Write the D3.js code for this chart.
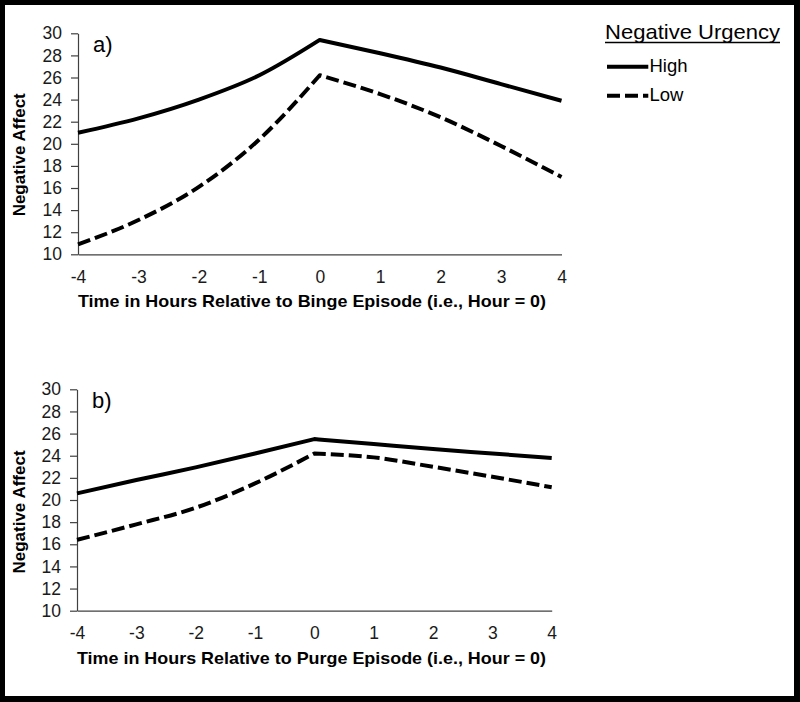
<!DOCTYPE html>
<html>
<head>
<meta charset="utf-8">
<script src="https://cdn.jsdelivr.net/npm/d3@7"></script>
<style>
  html, body { margin: 0; padding: 0; background: #fff; }
  svg { display: block; }
  text { font-family: Arial, "Liberation Sans", sans-serif; }
</style>
</head>
<body>
<svg id="chart" width="800" height="702"></svg>
<script>
// ---- data ----
const hours = [-4, -3, -2, -1, 0, 1, 2, 3, 4];
const yTicks = [10, 12, 14, 16, 18, 20, 22, 24, 26, 28, 30];
const bingeHigh = [21.0, 22.3, 24.0, 26.2, 29.4, 28.2, 26.9, 25.4, 23.9];
const bingeLow  = [10.9, 13.1, 16.1, 20.4, 26.2, 24.5, 22.4, 19.8, 17.0];
const purgeHigh = [20.6, 21.8, 22.95, 24.2, 25.5, 25.05, 24.6, 24.2, 23.8];
const purgeLow  = [16.4, 17.8, 19.3, 21.5, 24.2, 23.85, 23.0, 22.1, 21.15];
const seriesNames = ["High", "Low"];
const panelLabels = ["a)", "b)"];
const xTitles = [
  "Time in Hours Relative to Binge Episode (i.e., Hour = 0)",
  "Time in Hours Relative to Purge Episode (i.e., Hour = 0)"
];
const yTitle = "Negative Affect";
const legendTitle = "Negative Urgency";

const svg = d3.select("#chart");

// frame
svg.append("rect").attr("x", 0).attr("y", 0).attr("width", 800).attr("height", 702).attr("fill", "#000");
svg.append("rect").attr("x", 5).attr("y", 5).attr("width", 789).attr("height", 691).attr("fill", "#fff");

const panels = [
  { high: bingeHigh, low: bingeLow, x0: 78, x1: 561.5, yTop: 33.3, yBot: 254.3 },
  { high: purgeHigh, low: purgeLow, x0: 77, x1: 551.7, yTop: 389.3, yBot: 610.7 }
];

const dashes = [null, "13,5"];

panels.forEach((p, i) => {
  const x = d3.scaleLinear().domain([-4, 4]).range([p.x0, p.x1]);
  const y = d3.scaleLinear().domain([10, 30]).range([p.yBot, p.yTop]);
  const g = svg.append("g");

  // y axis
  const ya = g.append("g").attr("transform", `translate(${p.x0},0)`)
    .call(d3.axisLeft(y).tickValues(yTicks).tickSize(7).tickSizeOuter(0).tickPadding(9));
  ya.selectAll("path, line").attr("stroke", "#404040").attr("stroke-width", 1.2);
  ya.selectAll("text").attr("font-size", 17.5).attr("fill", "#1a1a1a")
    .style("font-family", "Arial, 'Liberation Sans', sans-serif");

  // x axis
  const xa = g.append("g").attr("transform", `translate(0,${p.yBot})`)
    .call(d3.axisBottom(x).tickValues(hours).tickSize(0).tickPadding(16).tickFormat(d3.format("d")));
  xa.selectAll("path").attr("stroke", "#404040").attr("stroke-width", 1.2);
  xa.selectAll("text").attr("font-size", 17.5).attr("fill", "#1a1a1a")
    .style("font-family", "Arial, 'Liberation Sans', sans-serif")
    .text(d => d < 0 ? "-" + Math.abs(d) : String(d));

  // lines: monotone on each side of the peak, joined at hour 0
  const lineGen = d3.line().x(d => x(d[0])).y(d => y(d[1])).curve(d3.curveMonotoneX);
  [p.high, p.low].forEach((vals, k) => {
    const pts = hours.map((h, j) => [h, vals[j]]);
    const left = pts.filter(d => d[0] <= 0);
    const right = pts.filter(d => d[0] >= 0);
    const dStr = lineGen(left) + lineGen(right).replace(/^M/, "L");
    const path = g.append("path").attr("d", dStr)
      .attr("fill", "none").attr("stroke", "#000").attr("stroke-width", 4)
      .attr("stroke-linejoin", "round");
    if (dashes[k]) path.attr("stroke-dasharray", dashes[k]);
  });

  // panel label
  g.append("text").attr("x", p.x0 + 15).attr("y", p.yTop + (i === 0 ? 18.5 : 19))
    .attr("font-size", 22).attr("fill", "#000").text(panelLabels[i]);

  // x title
  g.append("text").attr("x", p.x0).attr("y", p.yBot + 53)
    .attr("font-size", 17).attr("font-weight", "bold").attr("fill", "#000")
    .attr("textLength", (i === 0 ? 468 : 469)).attr("lengthAdjust", "spacingAndGlyphs")
    .text(xTitles[i]);

  // y title
  const cy = (p.yTop + p.yBot) / 2 + (i === 0 ? 11 : 12);
  g.append("text").attr("transform", `translate(25,${cy}) rotate(-90)`)
    .attr("text-anchor", "middle").attr("font-size", 17).attr("font-weight", "bold")
    .attr("fill", "#000").text(yTitle);
});

// legend
const lg = svg.append("g");
const lt = lg.append("text").attr("x", 605).attr("y", 39).attr("font-size", 21).attr("fill", "#000")
  .attr("textLength", 175).attr("lengthAdjust", "spacingAndGlyphs").text(legendTitle);
lg.append("line").attr("x1", 605).attr("x2", 780).attr("y1", 42.5).attr("y2", 42.5)
  .attr("stroke", "#000").attr("stroke-width", 1.5);
seriesNames.forEach((name, k) => {
  const yy = 66.7 + k * 29;
  const ln = lg.append("line").attr("x1", 607).attr("x2", 648.3).attr("y1", yy).attr("y2", yy)
    .attr("stroke", "#000").attr("stroke-width", 4);
  if (dashes[k]) ln.attr("stroke-dasharray", dashes[k]);
  lg.append("text").attr("x", 649.5).attr("y", yy + 5.2).attr("font-size", 18.5).attr("fill", "#000").text(name);
});
</script>
</body>
</html>
